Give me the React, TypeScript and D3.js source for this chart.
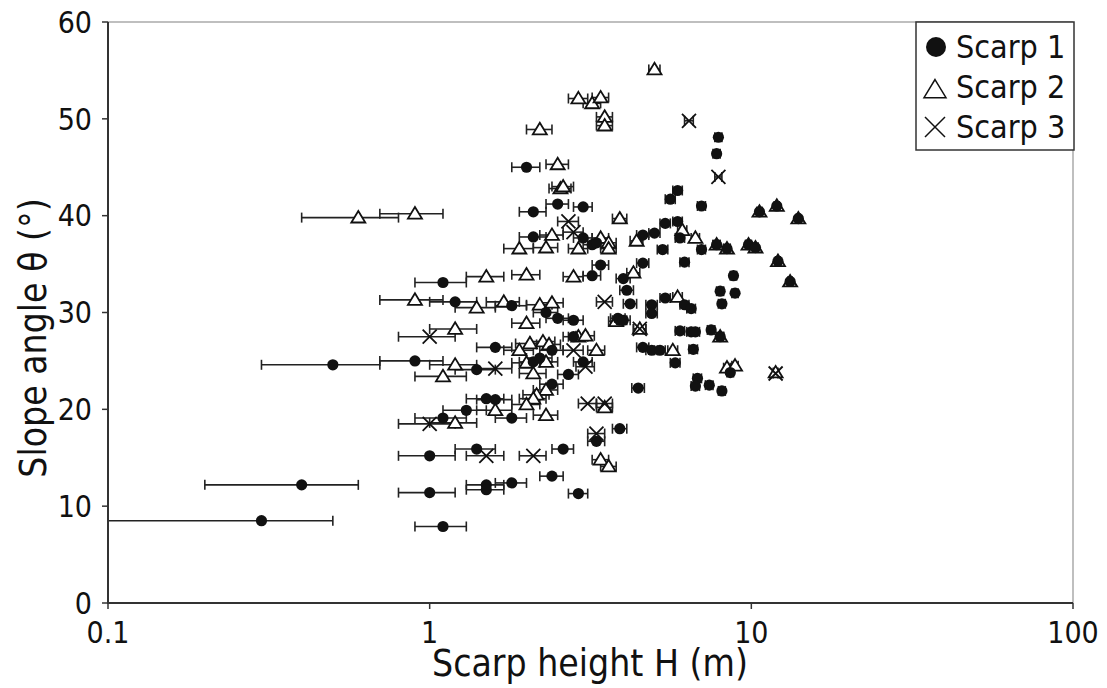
import React from 'react';
import * as d3 from 'd3';

// [scarp height H (m), slope angle θ (°)]
const scarp1 = [
	[0.3, 8.5], [0.4, 12.2], [0.5, 24.6], [0.9, 25.0], [1.1, 33.1], [1.2, 31.1],
	[1.0, 15.2], [1.0, 11.4], [1.1, 7.9], [1.1, 19.1], [1.3, 19.9], [1.5, 21.1],
	[1.6, 21.0], [1.6, 26.4], [1.4, 24.1], [1.4, 15.9], [1.5, 12.2], [1.5, 11.7],
	[1.8, 12.4], [1.8, 19.1], [1.8, 30.7], [2.0, 45.0], [2.1, 40.4], [2.5, 41.2],
	[3.0, 40.9], [2.1, 37.8], [3.0, 37.7], [3.2, 37.0], [3.3, 37.2], [3.4, 34.9],
	[3.2, 33.8], [4.0, 33.5], [4.1, 32.3], [4.2, 30.9], [2.3, 30.0], [2.5, 29.4],
	[2.8, 29.2], [2.8, 27.5], [2.1, 24.9], [2.2, 25.3], [2.4, 26.1], [3.0, 24.9],
	[2.7, 23.6], [2.4, 22.6], [2.4, 13.1], [2.6, 15.9], [2.9, 11.3], [3.3, 16.7],
	[3.9, 18.0], [3.85, 29.4], [3.9, 29.2], [4.45, 22.2], [4.6, 26.4], [4.6, 38.0],
	[5.0, 38.2], [4.6, 35.1], [5.4, 39.2], [5.9, 39.4], [5.6, 41.7], [5.9, 42.6],
	[7.0, 41.0], [7.9, 48.1], [7.8, 46.4], [10.6, 40.4], [12.0, 41.0], [14.0, 39.7],
	[5.3, 36.5], [6.0, 37.7], [7.0, 36.5], [7.8, 37.0], [8.4, 36.6], [9.8, 37.0],
	[10.3, 36.7], [12.1, 35.3], [13.2, 33.2], [6.2, 35.2], [8.8, 33.8], [8.0, 32.2],
	[8.9, 32.0], [8.1, 30.9], [4.9, 30.8], [5.4, 31.5], [6.2, 30.8], [6.5, 30.4],
	[4.9, 29.9], [4.0, 29.2], [6.0, 28.1], [6.5, 28.0], [6.7, 28.0], [7.5, 28.2],
	[8.0, 27.5], [4.9, 26.1], [5.2, 26.1], [6.6, 26.2], [5.8, 24.8], [8.6, 23.8],
	[6.8, 23.2], [6.7, 22.4], [7.4, 22.5], [8.1, 21.9],
];

const scarp2 = [
	[0.6, 39.8], [0.9, 40.2], [5.0, 55.1], [2.9, 52.1], [3.2, 51.6], [3.4, 52.2],
	[3.5, 50.2], [3.5, 49.3], [2.2, 48.9], [2.5, 45.3], [2.55, 42.8], [2.6, 43.0],
	[3.9, 39.7], [2.4, 38.0], [4.4, 37.4], [3.4, 37.7], [3.6, 37.2], [3.6, 36.6],
	[2.9, 36.6], [1.9, 36.6], [2.3, 36.7], [6.1, 38.5], [6.7, 37.7], [7.8, 37.0],
	[8.4, 36.6], [9.8, 37.0], [10.3, 36.7], [10.6, 40.4], [12.0, 41.0], [14.0, 39.7],
	[12.1, 35.3], [13.2, 33.2], [1.5, 33.7], [2.0, 33.9], [2.8, 33.7], [4.3, 34.1],
	[0.9, 31.3], [1.4, 30.5], [1.7, 31.1], [2.2, 30.8], [2.4, 31.0], [1.2, 28.3],
	[2.0, 28.9], [3.8, 29.1], [5.9, 31.6], [2.9, 27.5], [3.05, 27.6], [1.9, 26.1],
	[2.05, 26.8], [2.25, 27.0], [2.35, 26.7], [3.3, 26.1], [5.7, 26.1], [8.0, 27.5],
	[1.2, 24.6], [1.1, 23.4], [2.0, 24.8], [2.3, 24.9], [2.1, 23.7], [2.3, 22.0],
	[2.15, 21.5], [2.1, 21.1], [2.0, 20.5], [1.6, 19.9], [1.2, 18.6], [2.3, 19.4],
	[3.5, 20.2], [3.4, 14.8], [3.6, 14.1], [8.4, 24.3], [8.9, 24.5], [11.9, 23.8],
	[4.5, 28.3],
];

const scarp3 = [
	[6.4, 49.8], [7.9, 44.0], [2.7, 39.4], [2.8, 38.3], [3.5, 31.1], [1.0, 27.5],
	[4.5, 28.3], [2.8, 26.1], [3.05, 24.4], [1.6, 24.2], [1.0, 18.5], [3.1, 20.6],
	[3.5, 20.6], [3.3, 17.5], [1.5, 15.2], [2.1, 15.2], [11.9, 23.7],
];

const H_ERR = 0.2; // ± error on H (m)
const xTicks = [0.1, 1, 10, 100];
const xTickLabels = ['0.1', '1', '10', '100'];
const yTicks = [0, 10, 20, 30, 40, 50, 60];
const legendLabels = ['Scarp 1', 'Scarp 2', 'Scarp 3'];

const W = 1107;
const H = 688;
const m = { left: 108, right: 34, top: 22, bottom: 85 };
const FONT = '"DejaVu Sans Condensed", "Liberation Sans", sans-serif';

const x = d3.scaleLog().domain([0.1, 100]).range([m.left, W - m.right]);
const y = d3.scaleLinear().domain([0, 60]).range([H - m.bottom, m.top]);

const INK = '#111';

function ErrorBars({ data }: { data: number[][] }) {
	return (
		<g stroke="#222" strokeWidth={1.6}>
			{data.map(([h, t], i) => {
				const lo = x(Math.max(0.1, h - H_ERR));
				const hi = x(h + H_ERR);
				const cy = y(t);
				return (
					<g key={i}>
						<line x1={lo} x2={hi} y1={cy} y2={cy} />
						{h - H_ERR > 0.1 && <line x1={lo} x2={lo} y1={cy - 5} y2={cy + 5} />}
						<line x1={hi} x2={hi} y1={cy - 5} y2={cy + 5} />
					</g>
				);
			})}
		</g>
	);
}

const tri = (cx: number, cy: number, s: number) =>
	`M${cx},${cy - s * 0.95}L${cx + s},${cy + s * 0.7}L${cx - s},${cy + s * 0.7}Z`;
const cross = (cx: number, cy: number, s: number) =>
	`M${cx - s},${cy - s}L${cx + s},${cy + s}M${cx - s},${cy + s}L${cx + s},${cy - s}`;

export default function App() {
	const plotRight = W - m.right;
	const plotBottom = H - m.bottom;
	return (
		<svg
			width={W}
			height={H}
			style={{ position: 'absolute', left: 0, top: 0, background: '#fff' }}
			fontFamily={FONT}
		>
			{/* frame: light top/right, dark left/bottom */}
			<line x1={m.left} x2={plotRight} y1={m.top} y2={m.top} stroke="#aaa" strokeWidth={1.5} />
			<line x1={plotRight} x2={plotRight} y1={m.top} y2={plotBottom} stroke="#aaa" strokeWidth={1.5} />

			<ErrorBars data={scarp2} />
			<ErrorBars data={scarp3} />
			<ErrorBars data={scarp1} />

			<g fill="#fff" stroke={INK} strokeWidth={1.8}>
				{scarp2.map(([h, t], i) => (
					<path key={i} d={tri(x(h), y(t), 7)} />
				))}
			</g>
			<g fill="#111">
				{scarp1.map(([h, t], i) => (
					<circle key={i} cx={x(h)} cy={y(t)} r={5.6} />
				))}
			</g>
			<g fill="none" stroke={INK} strokeWidth={1.8}>
				{scarp3.map(([h, t], i) => (
					<path key={i} d={cross(x(h), y(t), 7)} />
				))}
			</g>

			{/* axes */}
			<line x1={m.left} x2={m.left} y1={m.top} y2={plotBottom + 1} stroke="#333" strokeWidth={2} />
			<line x1={m.left - 1} x2={plotRight} y1={plotBottom} y2={plotBottom} stroke="#333" strokeWidth={2} />
			{yTicks.map((t) => (
				<g key={t}>
					<line x1={m.left - 6} x2={m.left} y1={y(t)} y2={y(t)} stroke="#333" strokeWidth={1.5} />
					<text x={m.left - 16} y={y(t)} dy="0.36em" textAnchor="end" fontSize={30} fill={INK}>
						{t}
					</text>
				</g>
			))}
			{xTicks.map((t, i) => (
				<g key={t}>
					<line x1={x(t)} x2={x(t)} y1={plotBottom} y2={plotBottom + 6} stroke="#333" strokeWidth={1.5} />
					<text x={x(t)} y={643} textAnchor="middle" fontSize={30} fill={INK}>
						{xTickLabels[i]}
					</text>
				</g>
			))}
			<text x={590} y={676} textAnchor="middle" fontSize={37} fill={INK}>
				Scarp height H (m)
			</text>
			<text
				transform={`translate(46, 338) rotate(-90)`}
				textAnchor="middle"
				fontSize={37}
				fill={INK}
			>
				Slope angle θ (°)
			</text>

			{/* legend */}
			<g>
				<rect x={916} y={m.top} width={158} height={128} fill="#fff" stroke="#333" strokeWidth={1.5} />
				<circle cx={936} cy={47} r={10} fill="#111" />
				<path d={tri(935, 90, 11)} fill="#fff" stroke={INK} strokeWidth={1.5} />
				<path d={cross(935, 127, 10)} fill="none" stroke={INK} strokeWidth={1.5} />
				{legendLabels.map((l, i) => (
					<text key={l} x={956} y={46 + i * 40} dy="0.36em" fontSize={32} fill={INK}>
						{l}
					</text>
				))}
			</g>
		</svg>
	);
}
